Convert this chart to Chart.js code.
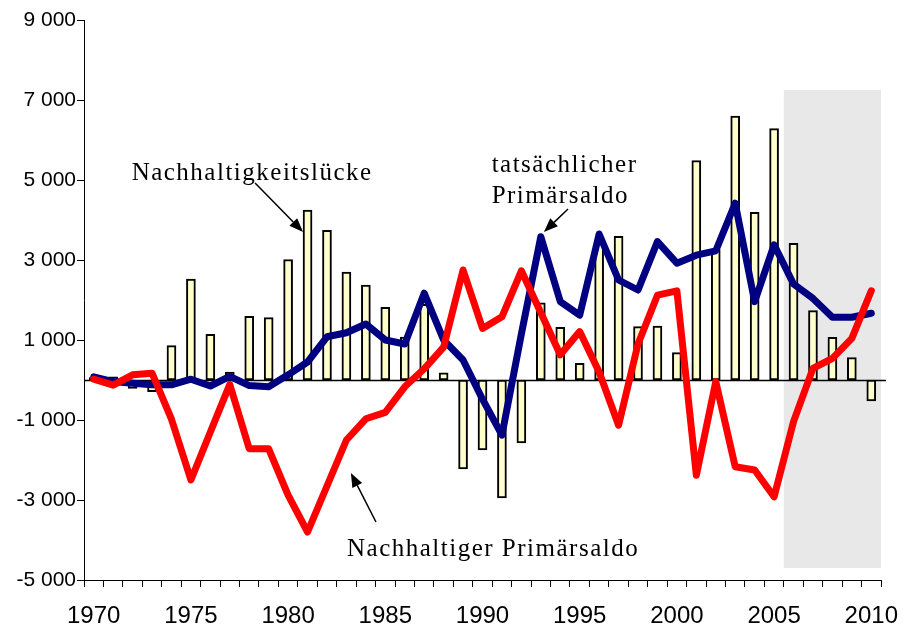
<!DOCTYPE html>
<html>
<head>
<meta charset="utf-8">
<script src="https://cdn.jsdelivr.net/npm/chart.js@4.4.1/dist/chart.umd.min.js"></script>
<style>
  html, body { margin: 0; padding: 0; background: #fff; }
  #wrap { width: 905px; height: 633px; }
</style>
</head>
<body>
<div id="wrap"><canvas id="chart" width="905" height="633"></canvas></div>
<script>
const years = [];
for (let y = 1970; y <= 2010; y++) years.push(String(y));

// tatsächlicher Primärsaldo (blue line)
const actualBalance = [
  80, -40, -80, -120, -120, 20, -150, 90, -140, -170,
  130, 450, 1080, 1180, 1400, 1000, 900, 2170, 1000, 500,
  -480, -1380, 1150, 3580, 1960, 1620, 3650, 2500, 2250, 3460,
  2920, 3120, 3230, 4420, 1960, 3380, 2400, 2040, 1570, 1570,
  1670
];

// Nachhaltiger Primärsaldo (red line)
const sustainableBalance = [
  20, -130, 130, 170, -980, -2500, -1300, -110, -1720, -1720,
  -2880, -3800, -2650, -1500, -970, -810, -170, 280, 820, 2750,
  1290, 1580, 2730, 1680, 630, 1210, 200, -1130, 900, 2120,
  2230, -2380, -40, -2170, -2250, -2920, -1040, 290, 540, 1040,
  2230
];

// Nachhaltigkeitslücke (bars)
const gapValues = [
  60, 80, -210, -290, 860, 2520, 1140, 200, 1590, 1560,
  3010, 4250, 3740, 2700, 2375, 1817, 1070, 1890, 180, -2220,
  -1750, -2950, -1570, 1930, 1317, 417, 3450, 3590, 1333, 1350,
  683, 5483, 3260, 6600, 4190, 6283, 3417, 1733, 1067, 558,
  -525
];

const yTicks = [-5000, -3000, -1000, 1000, 3000, 5000, 7000, 9000];
const forecastFrom = "2006";

// text labels with arrows, in data units (category index, value)
const notes = [
  { lines: ["Nachhaltigkeitslücke"], x: 1.95, y: 5000, tail: [8.3, 4925], head: [10.77, 3700] },
  { lines: ["tatsächlicher", "Primärsaldo"], x: 20.47, y: 5200, tail: [24.4, 4275], head: [23.16, 3700] },
  { lines: ["Nachhaltiger Primärsaldo"], x: 13.03, y: -4400, tail: [14.52, -3550], head: [13.23, -2325] }
];

function spaced(v) {
  const s = Math.abs(v).toString().replace(/\B(?=(\d{3})+(?!\d))/g, " ");
  return (v < 0 ? "-" : "") + s;
}

function arrow(ctx, x1, y1, x2, y2) {
  const a = Math.atan2(y2 - y1, x2 - x1);
  const len = 14, half = 5.5;
  const bx = x2 - len * Math.cos(a), by = y2 - len * Math.sin(a);
  ctx.beginPath();
  ctx.moveTo(x1, y1);
  ctx.lineTo(bx, by);
  ctx.lineWidth = 1.5;
  ctx.strokeStyle = "#000";
  ctx.stroke();
  ctx.beginPath();
  ctx.moveTo(x2, y2);
  ctx.lineTo(bx + half * Math.sin(a), by - half * Math.cos(a));
  ctx.lineTo(bx - half * Math.sin(a), by + half * Math.cos(a));
  ctx.closePath();
  ctx.fillStyle = "#000";
  ctx.fill();
}

const backdrop = {
  id: "backdrop",
  beforeDatasetsDraw(chart) {
    const { ctx, chartArea, scales } = chart;
    const x = scales.x, y = scales.y;
    const i = years.indexOf(forecastFrom);
    const left = (x.getPixelForValue(i - 1) + x.getPixelForValue(i)) / 2;
    const top = y.getPixelForValue(7250);
    const bottom = y.getPixelForValue(-4700);
    ctx.save();
    ctx.fillStyle = "#e8e8e8";
    ctx.fillRect(left, top, chartArea.right - left, bottom - top);
    const zero = Math.round(y.getPixelForValue(0)) + 0.5;
    ctx.beginPath();
    ctx.moveTo(chartArea.left, zero);
    ctx.lineTo(chartArea.right + 5, zero);
    ctx.lineWidth = 1.5;
    ctx.strokeStyle = "#000";
    ctx.stroke();
    ctx.restore();
  },
  afterDatasetsDraw(chart) {
    const { ctx, scales } = chart;
    const x = scales.x, y = scales.y;
    ctx.save();
    ctx.font = "25px 'Liberation Serif', 'Times New Roman', serif";
    ctx.letterSpacing = "1.5px";
    ctx.fillStyle = "#000";
    ctx.textBaseline = "alphabetic";
    notes.forEach((n) => {
      const px = x.getPixelForValue(n.x);
      const py = y.getPixelForValue(n.y);
      n.lines.forEach((t, k) => ctx.fillText(t, px, py + k * 31));
      arrow(ctx,
        x.getPixelForValue(n.tail[0]), y.getPixelForValue(n.tail[1]),
        x.getPixelForValue(n.head[0]), y.getPixelForValue(n.head[1]));
    });
    ctx.restore();
  }
};

new Chart(document.getElementById("chart"), {
  type: "bar",
  data: {
    labels: years,
    datasets: [
      {
        type: "line",
        label: "Nachhaltiger Primärsaldo",
        data: sustainableBalance,
        borderColor: "#ff0000",
        borderWidth: 7,
        pointRadius: 0,
        borderJoinStyle: "round",
        borderCapStyle: "round",
        tension: 0,
        order: 1
      },
      {
        type: "line",
        label: "tatsächlicher Primärsaldo",
        data: actualBalance,
        borderColor: "#000080",
        borderWidth: 7,
        pointRadius: 0,
        borderJoinStyle: "round",
        borderCapStyle: "round",
        tension: 0,
        order: 2
      },
      {
        label: "Nachhaltigkeitslücke",
        data: gapValues,
        backgroundColor: "#ffffcc",
        borderColor: "#000",
        borderWidth: 2,
        borderSkipped: false,
        barThickness: 9,
        order: 3
      }
    ]
  },
  options: {
    responsive: false,
    animation: false,
    layout: { padding: { top: 20, right: 24, left: 0, bottom: 0 } },
    plugins: {
      legend: { display: false },
      tooltip: { enabled: false }
    },
    scales: {
      x: {
        type: "category",
        offset: true,
        grid: { offset: true, drawOnChartArea: false, drawTicks: true, tickLength: 7, color: "#000", lineWidth: 1 },
        border: { display: true, color: "#000", width: 1 },
        ticks: {
          autoSkip: false,
          maxRotation: 0,
          minRotation: 0,
          padding: 15,
          color: "#000",
          font: { family: "'Liberation Sans', Arial, sans-serif", size: 24 },
          callback: (v, i) => (Number(years[i]) % 5 === 0 ? years[i] : "")
        },
        afterFit: (scale) => {
          scale.height = 53;
          scale.paddingLeft = 0;
          scale.paddingRight = 0;
        }
      },
      y: {
        min: -5000,
        max: 9000,
        afterBuildTicks: (scale) => { scale.ticks = yTicks.map((v) => ({ value: v })); },
        grid: { drawOnChartArea: false, drawTicks: true, tickLength: 7, color: "#000", lineWidth: 1 },
        border: { display: true, color: "#000", width: 1 },
        ticks: {
          padding: 1,
          color: "#000",
          font: { family: "'Liberation Sans', Arial, sans-serif", size: 21 },
          callback: (v) => spaced(v)
        },
        afterFit: (scale) => { scale.width = 84; }
      }
    }
  },
  plugins: [backdrop]
});
</script>
</body>
</html>
